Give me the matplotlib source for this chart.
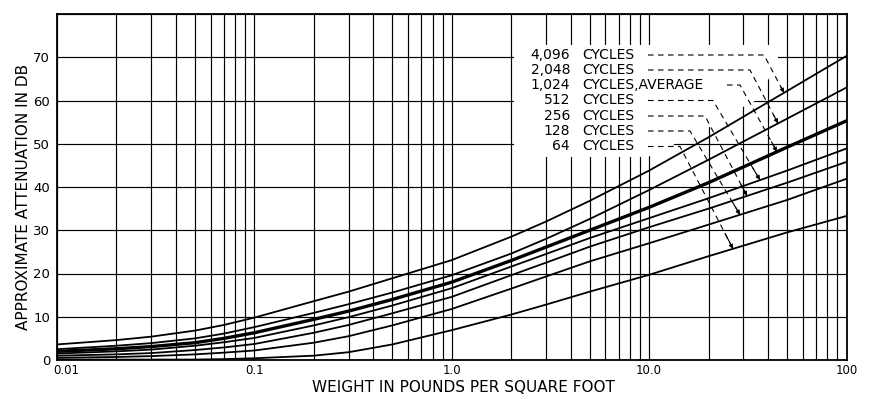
import numpy as np
import matplotlib
matplotlib.use("Agg")
import matplotlib.pyplot as plt
from matplotlib.patches import Polygon
from matplotlib.ticker import NullFormatter
from matplotlib.transforms import ScaledTranslation

# weight in pounds per square foot
weight = [0.01, 0.02, 0.03, 0.05, 0.07, 0.1, 0.2, 0.3, 0.5, 1, 2, 3, 5, 10, 20, 50, 100]

# approximate attenuation in dB for each frequency
db_4096 = [3.6, 4.6, 5.4, 6.8, 8.1, 9.8, 13.6, 15.8, 18.9, 23.1, 28.5, 32.0, 36.8, 43.8, 51.5, 62.2, 70.3]
db_2048 = [2.5, 3.3, 3.9, 5.0, 6.1, 7.6, 10.9, 12.9, 15.6, 19.6, 24.6, 28.0, 32.6, 39.3, 46.3, 55.8, 63.0]
db_1024 = [2.0, 2.6, 3.1, 4.0, 5.0, 6.3, 9.4, 11.3, 14.0, 18.0, 23.0, 26.1, 30.0, 35.3, 41.0, 49.2, 55.3]
db_512 = [1.5, 2.0, 2.4, 3.3, 4.1, 5.1, 8.0, 9.9, 12.6, 16.6, 21.6, 24.5, 28.2, 32.8, 37.4, 43.8, 48.9]
db_256 = [1.0, 1.3, 1.6, 2.3, 2.9, 3.7, 6.3, 8.1, 10.8, 14.6, 19.6, 22.5, 26.2, 30.7, 35.0, 41.0, 45.8]
db_128 = [0.5, 0.7, 0.9, 1.3, 1.7, 2.2, 4.0, 5.5, 8.0, 11.8, 16.5, 19.3, 22.8, 27.0, 31.3, 37.0, 41.9]
db_64 = [0.1, 0.1, 0.1, 0.1, 0.2, 0.4, 1.0, 1.8, 3.6, 6.9, 10.5, 12.8, 15.8, 19.7, 24.0, 29.5, 33.3]

curves = [db_4096, db_2048, db_1024, db_512, db_256, db_128, db_64]
freq_labels = ["4,096", "2,048", "1,024", "512", "256", "128", "64"]
suffixes = ["CYCLES", "CYCLES", "CYCLES,AVERAGE", "CYCLES", "CYCLES", "CYCLES", "CYCLES"]

xtick_vals = [0.01, 0.1, 1, 10, 100]
xtick_labels = ["0.01", "0.1", "1.0", "10.0", "100"]
ytick_vals = [0, 10, 20, 30, 40, 50, 60, 70]

# figure layout (pixels of the 873x399 picture)
W, H = 873, 399
AX_L, AX_R, AX_T, AX_B = 57, 846.5, 14, 360

fig = plt.figure(figsize=(W / 100, H / 100), dpi=100)
ax = fig.add_axes([AX_L / W, 1 - AX_B / H, (AX_R - AX_L) / W, (AX_B - AX_T) / H])


def wx(px):
    # pixel column -> weight
    return 10 ** ((px - AX_L) / (AX_R - AX_L) * 4 - 2)


def dby(py):
    # pixel row -> dB
    return (AX_B - py) / (AX_B - AX_T) * 80


ax.set_xscale("log")
ax.set_xlim(0.01, 100)
ax.set_ylim(0, 80)
ax.set_axisbelow(True)
ax.grid(True, which="both", color="black", lw=0.85)
ax.set_yticks(range(0, 90, 10))
ax.set_yticklabels([str(v) if v in ytick_vals else "" for v in range(0, 90, 10)])
ax.set_xticks(xtick_vals)
ax.set_xticklabels(xtick_labels)
ax.xaxis.set_minor_formatter(NullFormatter())
ax.tick_params(which="both", length=0)
ax.tick_params(axis="x", labelsize=8.5, pad=3)
ax.tick_params(axis="y", labelsize=9.5, pad=5)
for s in ax.spines.values():
    s.set_linewidth(1.3)

# "0.01" sits just right of the corner, clear of the "0"
first = ax.xaxis.get_major_ticks()[0].label1
first.set_horizontalalignment("left")
first.set_transform(first.get_transform()
                    + ScaledTranslation(-3 / 72, 0, fig.dpi_scale_trans))

# curves
for i, c in enumerate(curves):
    lw = 2.4 if i == 2 else 1.3
    ax.plot(weight, c, color="black", lw=lw, zorder=3)

# white area where the grid was cleared for the labels
mask_px = [(514, 45), (778, 45), (778, 62), (757, 100), (743, 107),
           (708, 128), (648, 157), (514, 157)]
mask = Polygon([(wx(px), dby(py)) for px, py in mask_px],
               closed=True, facecolor="white", edgecolor="none", zorder=1)
ax.add_patch(mask)

# labels with dashed leaders
row_py = [55, 70, 85, 100.5, 116, 131, 146.5]
dash_start_px = [648, 648, 727, 648, 648, 648, 648]
bend_px = [764, 750, 740, 713, 705, 690, 680]
end_px = [784, 778, 777, 760, 747, 740, 733]
logw = np.log10(weight)

for i in range(len(curves)):
    y = dby(row_py[i])
    ax.text(wx(570), y, freq_labels[i], ha="right", va="center",
            fontsize=10, zorder=4)
    ax.text(wx(582), y, suffixes[i], ha="left", va="center",
            fontsize=10, zorder=4)
    xe = wx(end_px[i])
    ye = np.interp(np.log10(xe), logw, curves[i])
    xb = wx(bend_px[i])
    ax.plot([wx(dash_start_px[i]), xb, xe], [y, y, ye], color="black",
            lw=0.8, ls=(0, (5, 4)), zorder=4)
    xa = 10 ** (np.log10(xe) - 0.15 * (np.log10(xe) - np.log10(xb)))
    ya = ye - 0.15 * (ye - y)
    ax.annotate("", xy=(xe, ye), xytext=(xa, ya),
                arrowprops=dict(arrowstyle="-|>", lw=0.8, color="black",
                                mutation_scale=6, shrinkA=0, shrinkB=0),
                zorder=4)

fig.text(463 / W, 1 - 387 / H, "WEIGHT IN POUNDS PER SQUARE FOOT",
         ha="center", va="center", fontsize=11)
fig.text(24 / W, 1 - 197 / H, "APPROXIMATE ATTENUATION IN DB",
         ha="center", va="center", rotation=90, fontsize=11)

fig.savefig("out.png", dpi=100)
